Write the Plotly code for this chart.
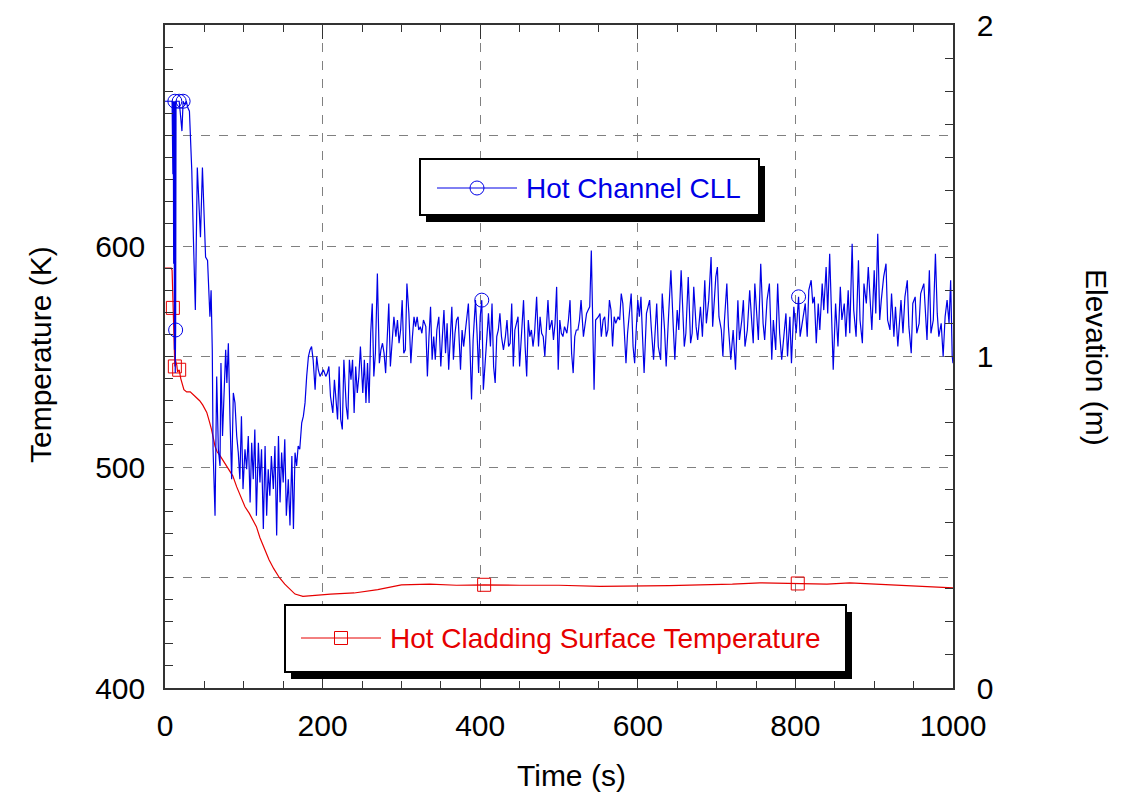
import plotly.graph_objects as go

# ---------------- data ----------------
blue_time = [
    0, 9, 10, 10.5, 11, 11.5, 12, 12.5, 13, 13.5,
    14, 16, 18, 20, 21.5, 23, 25, 27, 29, 31,
    32.5, 34, 36, 38.5, 41, 43, 45, 47.5, 49.5, 51.5,
    54, 56, 57, 58.5, 60, 61, 63.5, 65.6, 67.7, 69.8,
    71, 73, 75, 77, 78.5, 80.4, 82.5, 84.6, 86.7, 88.8,
    91, 93, 95, 97, 99, 101.5, 103.6, 105.7, 108, 110,
    112, 114, 116, 118.5, 120.5, 122.5, 124.8, 127, 129, 131,
    133, 135, 137.5, 139.5, 141.7, 144, 146, 148, 150, 152,
    154, 156.5, 158.6, 161, 163, 165, 167, 169, 171, 173.5,
    175.6, 177.7, 179.8, 182, 184, 186, 188, 190.5, 192.5, 194.5,
    196.7, 199, 201, 204, 206, 208, 210, 213, 215, 217,
    219, 221, 223, 225, 227, 230, 232, 234, 236, 238,
    240, 242, 244, 246, 248, 251, 253, 255, 257, 259,
    261, 263, 265, 267, 269.5, 272, 274, 276, 278, 280,
    282, 284, 286, 288, 290.5, 293, 295, 297, 299, 301,
    303, 305, 307, 309.5, 312, 314, 316, 318, 320, 322,
    324, 326, 328, 331, 333, 335, 337, 339, 341, 343,
    345, 347.5, 350, 352, 354, 356, 358, 360, 362, 364,
    366, 368, 370, 372, 375, 377, 379, 381, 383, 385,
    387, 389, 391, 394, 396, 398, 400, 402, 404, 406,
    408, 410.5, 413, 415, 417, 419, 421, 423, 425, 427,
    429.5, 432, 434, 436, 438, 440, 442, 444, 446, 448,
    450, 453, 455, 457, 459, 461, 463, 465, 467, 469,
    471.6, 474, 476, 478, 480, 482, 484, 486, 488, 491,
    493, 495, 497, 499, 501, 503, 505, 507, 510, 512,
    514, 516, 518, 520, 522, 524, 526, 528, 531, 533,
    535, 537, 539, 541, 543, 544.5, 546.5, 550, 552, 553.7,
    556, 558, 560, 562, 564, 566, 568, 570, 572, 575,
    577, 579, 581, 583, 585, 587, 589, 591.6, 594, 596,
    598, 600, 602, 604, 606, 608, 611, 615, 617, 620,
    624, 626, 629, 631, 634, 636, 639, 642, 645, 647,
    650, 652, 655, 657, 659, 661, 664, 667, 669, 671,
    674, 676, 679.5, 682, 685, 687, 690, 693, 695, 699,
    701, 703, 706, 708, 710, 713, 715, 718, 721, 724,
    727, 729, 732, 734, 736, 739, 742, 745, 746.5, 748.5,
    751, 753, 756, 759, 761, 764, 767, 770, 772, 775,
    777.5, 780, 782.6, 785, 788, 790, 793, 795, 798, 801,
    804, 806, 809, 812.5, 815, 817, 820, 822, 824, 826.5,
    829, 831, 834, 836, 839, 841, 843.5, 845.5, 848, 851,
    853, 854, 857, 859, 862, 864, 867, 869, 872, 874,
    877, 880, 882, 885, 887, 890, 892.5, 895, 897, 900,
    902, 904.5, 907, 909, 912, 915, 917, 920, 922, 925,
    927, 930, 932, 934, 936.5, 939, 942, 944, 947, 949,
    952, 954, 957, 959, 963, 965, 967, 970, 972, 975,
    977.7, 980, 982, 985, 987.5, 990, 992.5, 995, 997, 999,
    1000,
]

blue_elev = [
    1.77, 1.77, 1.55, 1.77, 1.28, 1.77, 1.02, 1.77, 0.95, 1.08,
    1.77, 1.77, 1.77, 1.72, 1.68, 1.77, 1.76, 1.77, 1.75, 1.74,
    1.66, 1.56, 1.36, 1.14, 1.57, 1.46, 1.36, 1.57, 1.45, 1.30,
    1.29, 1.20, 1.12, 1.20, 1.02, 0.72, 0.52, 0.94, 0.72, 0.67,
    0.98, 0.76, 0.87, 1.02, 0.92, 1.04, 0.81, 0.63, 0.89, 0.86,
    0.76, 0.71, 0.63, 0.82, 0.60, 0.72, 0.66, 0.76, 0.56, 0.74,
    0.63, 0.78, 0.52, 0.74, 0.62, 0.72, 0.48, 0.73, 0.52, 0.66,
    0.58, 0.70, 0.60, 0.73, 0.46, 0.76, 0.56, 0.71, 0.62, 0.75,
    0.52, 0.63, 0.49, 0.70, 0.48, 0.71, 0.67, 0.73, 0.72, 0.80,
    0.82, 0.86, 0.94, 1.00, 1.02, 1.03, 0.99, 0.90, 1.00, 0.96,
    0.94, 0.95, 0.96, 0.94, 0.95, 0.97, 0.88, 0.83, 0.93, 0.87,
    0.81, 0.97, 0.81, 0.78, 0.99, 0.85, 0.81, 0.99, 0.93, 0.99,
    0.83, 0.97, 0.89, 0.94, 1.03, 0.89, 0.99, 0.86, 0.98, 0.86,
    1.07, 1.16, 0.94, 1.01, 1.25, 0.98, 1.02, 1.04, 1.01, 0.95,
    1.08, 1.16, 0.97, 1.03, 1.12, 1.06, 1.11, 1.04, 1.08, 1.17,
    1.01, 1.02, 1.22, 1.13, 0.98, 1.06, 1.12, 1.09, 1.12, 1.08,
    1.09, 1.07, 1.11, 1.09, 0.94, 1.06, 1.15, 0.99, 1.06, 0.99,
    1.08, 1.12, 0.97, 1.06, 1.14, 1.01, 1.10, 0.96, 1.06, 1.15,
    0.99, 1.07, 1.11, 1.12, 0.96, 1.08, 1.03, 1.07, 1.12, 1.16,
    1.03, 0.87, 1.05, 1.17, 1.07, 0.95, 1.12, 1.17, 0.90, 0.98,
    1.05, 1.13, 1.03, 1.16, 0.97, 0.92, 1.06, 1.08, 1.13, 1.06,
    1.02, 1.06, 1.11, 1.03, 1.04, 1.16, 0.97, 1.08, 1.10, 1.12,
    0.97, 1.08, 1.17, 1.03, 0.94, 1.11, 1.06, 1.08, 1.03, 1.07,
    1.18, 1.03, 1.12, 1.07, 1.06, 1.00, 1.11, 1.17, 1.08, 1.11,
    1.05, 1.10, 1.21, 0.96, 1.11, 1.07, 1.06, 1.09, 1.07, 1.11,
    1.17, 1.01, 0.95, 1.06, 1.08, 1.08, 1.11, 1.17, 1.06, 1.09,
    1.13, 1.14, 1.15, 1.32, 1.11, 0.90, 1.11, 1.12, 1.13, 1.06,
    1.11, 1.12, 1.06, 1.08, 1.17, 1.14, 1.03, 1.12, 1.10, 1.12,
    1.11, 1.19, 1.16, 1.08, 0.98, 1.07, 1.13, 1.19, 1.03, 0.98,
    1.08, 1.17, 1.12, 1.18, 1.06, 0.95, 1.13, 1.17, 1.09, 0.99,
    1.16, 1.03, 0.99, 1.19, 1.08, 0.97, 1.12, 1.26, 1.09, 0.99,
    1.14, 1.08, 1.26, 1.11, 1.03, 1.07, 1.24, 1.04, 1.07, 1.21,
    1.09, 1.05, 1.15, 1.06, 1.23, 1.10, 1.17, 1.30, 1.09, 1.24,
    1.27, 1.12, 1.08, 1.00, 1.11, 1.22, 1.09, 0.99, 1.08, 0.96,
    1.17, 1.05, 1.11, 1.17, 1.03, 1.08, 1.20, 1.09, 1.04, 1.22,
    1.13, 1.05, 1.28, 1.10, 1.05, 1.17, 1.22, 0.99, 1.11, 1.02,
    1.22, 1.07, 0.99, 1.05, 1.13, 1.00, 1.12, 0.98, 1.15, 1.07,
    1.18, 1.06, 1.11, 1.16, 1.06, 1.20, 1.23, 1.16, 1.18, 1.04,
    1.16, 1.08, 1.22, 1.14, 1.27, 1.13, 1.31, 1.15, 0.96, 1.16,
    1.05, 1.03, 1.21, 1.11, 1.16, 1.06, 1.20, 1.07, 1.34, 1.14,
    1.06, 1.29, 1.11, 1.04, 1.22, 1.16, 1.27, 1.15, 1.08, 1.26,
    1.13, 1.37, 1.11, 1.17, 1.24, 1.28, 1.11, 1.08, 1.19, 1.06,
    1.15, 1.03, 1.12, 1.17, 1.07, 1.18, 1.23, 1.09, 1.01, 1.16,
    1.18, 1.07, 1.10, 1.19, 1.22, 1.11, 1.05, 1.26, 1.07, 1.11,
    1.31, 1.13, 1.06, 1.10, 1.00, 1.12, 1.17, 1.10, 1.23, 1.00,
    0.98,
]

red_time = [
    0, 8, 9, 10, 11, 12.5, 13.5, 15, 16, 18,
    20, 24, 27.5, 32, 38, 44, 48, 53, 56, 59,
    63.5, 66, 70, 75, 80, 86, 91, 96, 101.5, 107,
    112, 116, 120.5, 126, 132, 138, 145, 152, 158.6, 165,
    175, 190, 210, 240, 270, 300, 336, 370, 405, 450,
    500, 552, 600, 640, 679, 720, 755, 803, 840, 869,
    900, 933, 960, 1000,
]
red_temp = [
    590, 590, 589, 572, 560, 545.5, 548, 546, 543, 544,
    540, 535, 534, 534, 532, 530, 528, 524.7, 521, 517,
    509.4, 507, 505, 502, 499, 496, 491, 487, 482, 479,
    476, 473, 468, 463, 458, 454, 450, 447, 444.5, 442.5,
    441.5, 442, 442.5, 443, 444.5, 446.7, 447, 446.5, 446.7, 446.5,
    446.5, 446, 446, 446.3, 446.7, 447, 447.6, 447.3, 447, 447.6,
    447, 446.5, 446, 445.3,
]

blue_marker_times = [12.5, 13.5, 18, 23, 402, 804]
red_marker_times = [10, 12.5, 18, 405, 803]

x_ticks = [0, 200, 400, 600, 800, 1000]
temp_ticks = [400, 450, 500, 550, 600, 650, 700]
temp_labels = ["400", "", "500", "", "600", "", ""]
elev_ticks = [0, 1, 2]

blue_name = "Hot Channel CLL"
red_name = "Hot Cladding Surface Temperature"

assert len(blue_time) == len(blue_elev), (len(blue_time), len(blue_elev))
assert len(red_time) == len(red_temp), (len(red_time), len(red_temp))

BLUE = "#0000e6"
RED = "#e60000"
AX = "#333333"
FONT = "Liberation Sans, Arial, sans-serif"

bmx = blue_marker_times
bmy = [blue_elev[blue_time.index(t)] for t in bmx]
rmx = red_marker_times
rmy = [red_temp[red_time.index(t)] for t in rmx]

fig = go.Figure()
fig.add_trace(go.Scatter(x=red_time, y=red_temp, mode="lines",
                         line=dict(color=RED, width=1.2), yaxis="y", name=red_name))
fig.add_trace(go.Scatter(x=rmx, y=rmy, mode="markers", yaxis="y",
                         marker=dict(symbol="square-open", size=13, color=RED,
                                     line=dict(width=1, color=RED))))
fig.add_trace(go.Scatter(x=blue_time, y=blue_elev, mode="lines",
                         line=dict(color=BLUE, width=1.2), yaxis="y2", name=blue_name))
fig.add_trace(go.Scatter(x=bmx, y=bmy, mode="markers", yaxis="y2",
                         marker=dict(symbol="circle-open", size=14, color=BLUE,
                                     line=dict(width=1, color=BLUE))))

# page has an 8 px body margin; plot area target in page pixels:
OFF = 8
L, R, T, B = 165, 953, 25, 688
W, H = 1122 - OFF, 803 - OFF


def px(x):
    return (x - L) / (R - L)


def py(y):
    return (B - y) / (B - T)


shapes = []
annotations = []


def legend_box(x0, y0, x1, y1):
    shapes.append(dict(type="rect", xref="paper", yref="paper",
                       x0=px(x0 + 6), x1=px(x1 + 6), y0=py(y0 + 7), y1=py(y1 + 7),
                       fillcolor="black", line=dict(width=0)))
    shapes.append(dict(type="rect", xref="paper", yref="paper",
                       x0=px(x0), x1=px(x1), y0=py(y0), y1=py(y1),
                       fillcolor="white", line=dict(color="black", width=2)))


legend_box(420, 159, 759, 215)
shapes.append(dict(type="line", xref="paper", yref="paper",
                   x0=px(437), x1=px(517), y0=py(188), y1=py(188),
                   line=dict(color=BLUE, width=1)))
shapes.append(dict(type="circle", xref="paper", yref="paper",
                   x0=px(477 - 7), x1=px(477 + 7), y0=py(188 + 7), y1=py(188 - 7),
                   line=dict(color=BLUE, width=1)))
annotations.append(dict(x=px(524), y=py(188), xref="paper", yref="paper",
                        text=blue_name, showarrow=False, xanchor="left", yanchor="middle",
                        font=dict(size=28, color=BLUE, family=FONT)))

legend_box(285, 605, 846, 672)
shapes.append(dict(type="line", xref="paper", yref="paper",
                   x0=px(301), x1=px(381), y0=py(638), y1=py(638),
                   line=dict(color=RED, width=1)))
shapes.append(dict(type="rect", xref="paper", yref="paper",
                   x0=px(341 - 6.5), x1=px(341 + 6.5), y0=py(638 + 6.5), y1=py(638 - 6.5),
                   line=dict(color=RED, width=1)))
annotations.append(dict(x=px(388), y=py(638), xref="paper", yref="paper",
                        text=red_name, showarrow=False, xanchor="left", yanchor="middle",
                        font=dict(size=28, color=RED, family=FONT)))

annotations.append(dict(x=px(571), y=py(775), xref="paper", yref="paper",
                        text="Time (s)", showarrow=False, xanchor="center", yanchor="middle",
                        font=dict(size=30, color="black", family=FONT)))
annotations.append(dict(x=px(40), y=py(355), xref="paper", yref="paper",
                        text="Temperature (K)", showarrow=False, textangle=-90,
                        xanchor="center", yanchor="middle",
                        font=dict(size=30, color="black", family=FONT)))
annotations.append(dict(x=px(1097), y=py(357), xref="paper", yref="paper",
                        text="Elevation (m)", showarrow=False, textangle=90,
                        xanchor="center", yanchor="middle",
                        font=dict(size=30, color="black", family=FONT)))

tickfont = dict(size=30, color="black", family=FONT)

fig.update_layout(
    width=W, height=H,
    margin=dict(l=L - OFF, r=W - (R - OFF), t=T - OFF, b=H - (B - OFF),
                autoexpand=False),
    paper_bgcolor="white", plot_bgcolor="white",
    showlegend=False,
    font=dict(family=FONT),
    xaxis=dict(range=[0, 1000], tickmode="array", tickvals=x_ticks,
               ticks="inside", ticklen=14, tickcolor=AX, tickwidth=1,
               showline=True, linecolor=AX, linewidth=1.5, mirror="ticks",
               showgrid=True, gridcolor="#808080", griddash="dash", gridwidth=1,
               zeroline=False, tickfont=tickfont, ticklabelstandoff=10,
               automargin=False,
               minor=dict(dtick=50, tick0=0, ticks="inside", ticklen=7,
                          tickcolor=AX, showgrid=False)),
    yaxis=dict(range=[400, 700], tickmode="array", tickvals=temp_ticks,
               ticktext=temp_labels, ticks="inside", ticklen=8, tickcolor=AX,
               showline=True, linecolor=AX, linewidth=1.5, mirror=False,
               showgrid=True, gridcolor="#808080", griddash="dash", gridwidth=1,
               zeroline=False, tickfont=tickfont, ticklabelstandoff=12,
               automargin=False,
               minor=dict(dtick=10, tick0=400, ticks="inside", ticklen=8,
                          tickcolor=AX, showgrid=False)),
    yaxis2=dict(range=[0, 2], overlaying="y", side="right", tickmode="array",
                tickvals=elev_ticks, ticks="inside", ticklen=8, tickcolor=AX,
                showline=True, linecolor=AX, linewidth=1.5,
                showgrid=False, zeroline=False, tickfont=tickfont,
                ticklabelstandoff=16, automargin=False,
                minor=dict(dtick=0.1, tick0=0, ticks="inside", ticklen=8,
                           tickcolor=AX, showgrid=False)),
    shapes=shapes,
    annotations=annotations,
)

fig.write_html("out.html")
